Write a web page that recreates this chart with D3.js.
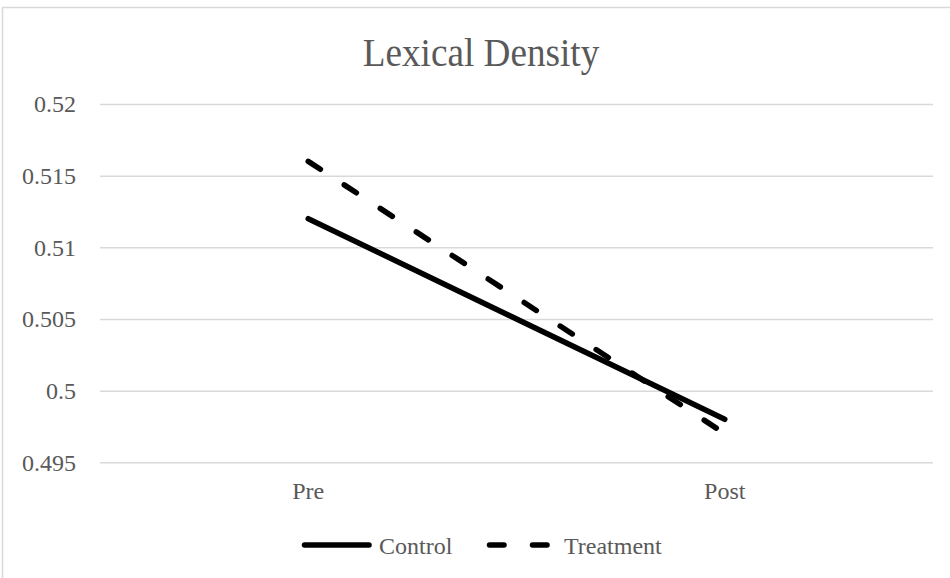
<!DOCTYPE html>
<html>
<head>
<meta charset="utf-8">
<script src="https://cdn.jsdelivr.net/npm/d3@7"></script>
<style>
    body { margin: 0; background: #ffffff; }
    #lexical-chart text { font-family: "Liberation Serif", "DejaVu Serif", serif; fill: #595959; }
</style>
</head>
<body>
<div id="lexical-chart"></div>
<script>
var categories = ["Pre", "Post"];
var seriesNames = ["Control", "Treatment"];
var controlValues = [0.512, 0.498];
var treatmentValues = [0.516, 0.497];
var yTicks = [0.495, 0.5, 0.505, 0.51, 0.515, 0.52];

function LexicalChart(){
    this.draw();
}

LexicalChart.prototype.constructor = LexicalChart;

LexicalChart.prototype.draw = function(){
    var elem = d3.select("#lexical-chart");
    var width = 950, height = 578;
    var plot = {left: 100, right: 933, top: 104, bottom: 462.3};

    var svg = elem.append("svg")
        .attr("width", width)
        .attr("height", height);

    // chart border (right/bottom edges fall outside the picture)
    svg.append("rect")
        .attr("x", 2.5)
        .attr("y", 7.5)
        .attr("width", 970)
        .attr("height", 600)
        .attr("fill", "none")
        .attr("stroke", "#d9d9d9")
        .attr("stroke-width", 1.5);

    // Set ranges
    var x = d3.scaleBand()
        .domain(categories)
        .range([plot.left, plot.right])
        .padding(0);
    var y = d3.scaleLinear()
        .domain([0.495, 0.52])
        .range([plot.bottom, plot.top]);

    // gridlines + tick labels
    var yAxis = svg.append("g")
        .attr("transform", "translate(" + plot.left + ",0)")
        .call(d3.axisLeft(y)
            .tickValues(yTicks)
            .tickSize(-(plot.right - plot.left))
            .tickPadding(24)
            .tickFormat(function(d){ return String(+d.toFixed(3)); }));
    yAxis.select(".domain").remove();
    yAxis.selectAll(".tick line")
        .attr("stroke", "#d9d9d9")
        .attr("stroke-width", 1.5);
    yAxis.selectAll(".tick text")
        .attr("font-size", 24)
        .attr("dy", "0.33em");

    // category labels
    var xAxis = svg.append("g")
        .attr("transform", "translate(0," + plot.bottom + ")")
        .call(d3.axisBottom(x).tickSize(0).tickPadding(0));
    xAxis.select(".domain").remove();
    xAxis.selectAll(".tick text")
        .attr("font-size", 24)
        .attr("dy", null)
        .attr("y", 37);

    // title
    svg.append("text")
        .attr("transform", "translate(481,66) scale(0.93,1)")
        .attr("text-anchor", "middle")
        .attr("font-size", 40)
        .text("Lexical Density");

    var line = d3.line()
        .x(function(d, i){ return x(categories[i]) + x.bandwidth() / 2; })
        .y(function(d){ return y(d); });

    var series = [
        {name: seriesNames[0], values: controlValues, dash: null},
        {name: seriesNames[1], values: treatmentValues, dash: "14.5,28.5"}
    ];

    svg.selectAll(".series")
        .data(series)
        .enter().append("path")
        .attr("class", "series")
        .attr("d", function(d){ return line(d.values); })
        .attr("fill", "none")
        .attr("stroke", "#000000")
        .attr("stroke-width", 5.5)
        .attr("stroke-linecap", "round")
        .attr("stroke-dasharray", function(d){ return d.dash; });

    // legend
    var legendX = [304.5, 489.5];
    var legend = svg.selectAll(".legend")
        .data(series)
        .enter().append("g")
        .attr("class", "legend")
        .attr("transform", function(d, i){ return "translate(" + legendX[i] + ",545)"; });
    legend.append("line")
        .attr("x1", 0)
        .attr("x2", 64.5)
        .attr("stroke", "#000000")
        .attr("stroke-width", 5.5)
        .attr("stroke-linecap", "round")
        .attr("stroke-dasharray", function(d){ return d.dash; });
    legend.append("text")
        .attr("x", function(d, i){ return i === 0 ? 74.5 : 74.5; })
        .attr("y", 8.5)
        .attr("font-size", 24)
        .text(function(d){ return d.name; });
};

new LexicalChart();
</script>
</body>
</html>
